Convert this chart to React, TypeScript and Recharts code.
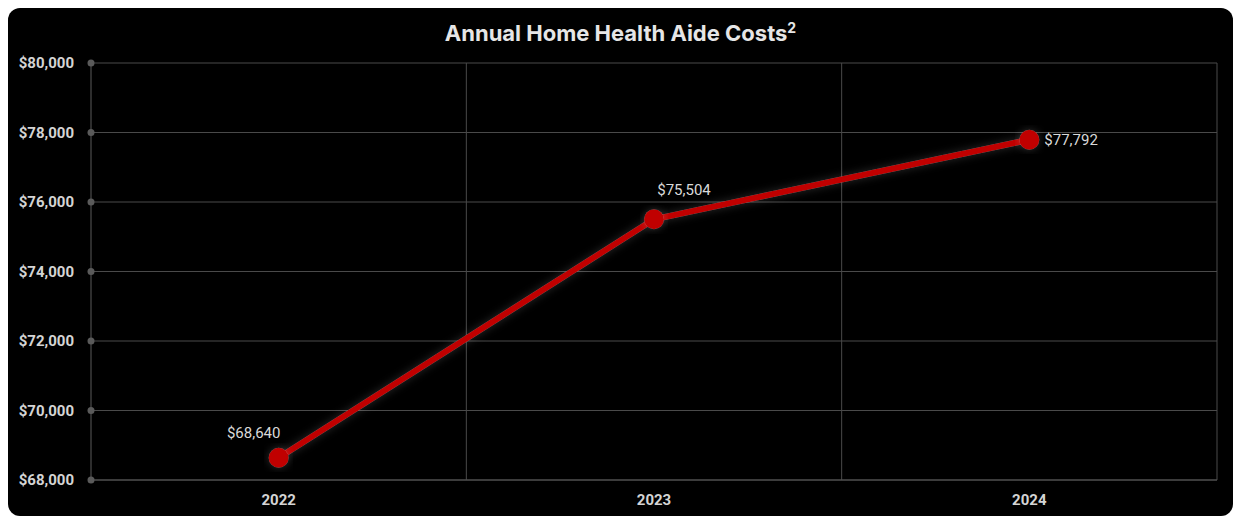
import React from 'react';
import { LineChart, Line, XAxis, YAxis, CartesianGrid, ReferenceLine, LabelList } from 'recharts';

const years = ['2022', '2023', '2024'];
const costs = [68640, 75504, 77792];
const yTicks = [68000, 70000, 72000, 74000, 76000, 78000, 80000];

const data = years.map((year, i) => ({ idx: i, year, cost: costs[i] }));

const fmt = (v: number) => '$' + v.toLocaleString('en-US');

const YTick = (props: any) => {
    const { x, y, payload } = props;
    return (
        <g>
            <circle cx={x + 8} cy={y} r={3.5} fill="#5a5a5a" />
            <text x={x - 9} y={y} dy={5} textAnchor="end" fill="#d4d4d4" fontSize={15} fontWeight={700} fontFamily="Roboto, sans-serif">
                {fmt(payload.value)}
            </text>
        </g>
    );
};

// label offsets per point, matching the reference placement
const labelOffsets = [
    { dx: -25, dy: -20, anchor: 'middle' },
    { dx: 30, dy: -24, anchor: 'middle' },
    { dx: 15, dy: 5, anchor: 'start' },
];

const PointLabel = (props: any) => {
    const { x, y, value, index } = props;
    const o = labelOffsets[index];
    return (
        <text x={x + o.dx} y={y + o.dy} textAnchor={o.anchor} fill="#d9d9d9" fontSize={15} fontFamily="Roboto, sans-serif">
            {fmt(value)}
        </text>
    );
};

export default function App() {
    return (
        <div style={{ position: 'relative', width: 1225, height: 508, background: '#000', borderRadius: 12, overflow: 'hidden' }}>
            <div style={{ position: 'absolute', top: 11, left: 0, width: '100%', textAlign: 'center', color: '#e6e6e6', fontFamily: 'Inter, sans-serif', fontWeight: 700, fontSize: 22 }}>
                Annual Home Health Aide Costs<sup style={{ fontSize: 14 }}>2</sup>
            </div>
            <LineChart width={1225} height={508} data={data} margin={{ top: 55, right: 16, bottom: 6, left: 0 }}>
                <defs>
                    <filter id="glow" x="-20%" y="-20%" width="140%" height="140%">
                        <feGaussianBlur in="SourceAlpha" stdDeviation="4" result="blur" />
                        <feFlood floodColor="#ffffff" floodOpacity="0.18" />
                        <feComposite in2="blur" operator="in" result="shadow" />
                        <feMerge>
                            <feMergeNode in="shadow" />
                            <feMergeNode in="SourceGraphic" />
                        </feMerge>
                    </filter>
                </defs>
                <CartesianGrid stroke="#4a4a4a" vertical={false} />
                <ReferenceLine x={0.5} stroke="#4a4a4a" />
                <ReferenceLine x={1.5} stroke="#4a4a4a" />
                <ReferenceLine x={2.5} stroke="#4a4a4a" />
                <XAxis
                    dataKey="idx"
                    type="number"
                    domain={[-0.5, 2.5]}
                    ticks={[0, 1, 2]}
                    tickFormatter={(v: number) => years[v]}
                    stroke="#555"
                    tickLine={false}
                    tick={{ fill: '#d4d4d4', fontSize: 15, fontWeight: 700, fontFamily: 'Roboto, sans-serif' }}
                    tickMargin={8}
                />
                <YAxis
                    domain={[68000, 80000]}
                    ticks={yTicks}
                    width={83}
                    stroke="#5a5a5a"
                    tickLine={false}
                    tick={<YTick />}
                    interval={0}
                />
                <Line
                    dataKey="cost"
                    stroke="#c00000"
                    strokeWidth={6}
                    filter="url(#glow)"
                    dot={{ r: 10, fill: '#c00000', stroke: '#c00000', strokeWidth: 0 }}
                    activeDot={false}
                    isAnimationActive={false}
                >
                    <LabelList dataKey="cost" content={<PointLabel />} />
                </Line>
            </LineChart>
        </div>
    );
}
